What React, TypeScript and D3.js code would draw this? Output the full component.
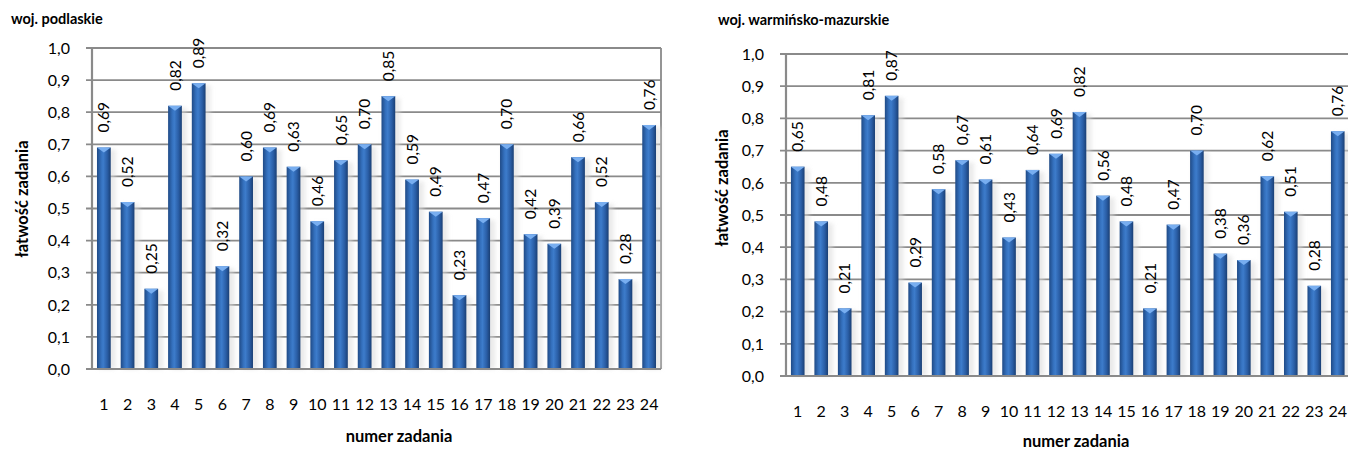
import React from "react";
import * as d3 from "d3";

const categories: string[] = Array.from({ length: 24 }, (_, i) => String(i + 1));
const podlaskieValues: number[] = [0.69, 0.52, 0.25, 0.82, 0.89, 0.32, 0.60, 0.69, 0.63, 0.46, 0.65, 0.70, 0.85, 0.59, 0.49, 0.23, 0.47, 0.70, 0.42, 0.39, 0.66, 0.52, 0.28, 0.76];
const warminskoValues: number[] = [0.65, 0.48, 0.21, 0.81, 0.87, 0.29, 0.58, 0.67, 0.61, 0.43, 0.64, 0.69, 0.82, 0.56, 0.48, 0.21, 0.47, 0.70, 0.38, 0.36, 0.62, 0.51, 0.28, 0.76];
const yTicks: number[] = [0, 0.1, 0.2, 0.3, 0.4, 0.5, 0.6, 0.7, 0.8, 0.9, 1.0];
const titles: string[] = ["woj. podlaskie", "woj. warmińsko-mazurskie"];
const yAxisTitle = "łatwość zadania";
const xAxisTitle = "numer zadania";

const FONT = "Lato, 'Open Sans', sans-serif";
const fmt = (v: number) => v.toFixed(2).replace(".", ",");
const fmtTick = (v: number) => v.toFixed(1).replace(".", ",");

interface Layout {
  left: number; right: number; top: number; bottom: number;
  titleX: number; titleY: number;
  yTitleX: number; yTitleY: number;
  xTickY: number; xTitleX: number; xTitleY: number;
  tickLabelX: number;
}

const layouts: Layout[] = [
  { left: 92, right: 661, top: 48, bottom: 369, titleX: 11, titleY: 24, yTitleX: 22, yTitleY: 199, xTickY: 410, xTitleX: 399, xTitleY: 442, tickLabelX: 70 },
  { left: 786, right: 1349.5, top: 54, bottom: 376, titleX: 718, titleY: 25, yTitleX: 722, yTitleY: 188, xTickY: 417, xTitleX: 1076, xTitleY: 447, tickLabelX: 764 },
];

function Chart({ values, title, L, id }: { values: number[]; title: string; L: Layout; id: string }) {
  const x = d3.scaleBand<string>().domain(categories).range([L.left, L.right]).paddingInner(0.42).paddingOuter(0.21);
  const y = d3.scaleLinear().domain([0, 1]).range([L.bottom, L.top]);
  const bw = x.bandwidth();
  const grid = "#8a8a8a";
  return (
    <g>
      <text x={L.titleX} y={L.titleY} fontFamily={FONT} fontWeight={700} fontSize={14.5} fill="#000">{title}</text>
      {yTicks.map((t) => (
        <g key={t}>
          <line x1={L.left - 6} x2={L.right} y1={y(t)} y2={y(t)} stroke={grid} strokeWidth={1.8} />
          <text x={L.tickLabelX} y={y(t)} dy="0.36em" textAnchor="end" fontFamily={FONT} fontSize={16} fill="#000">{fmtTick(t)}</text>
        </g>
      ))}
      <line x1={L.left} x2={L.left} y1={L.top} y2={L.bottom} stroke={grid} strokeWidth={2.2} />
      <line x1={L.right} x2={L.right} y1={L.top} y2={L.bottom} stroke={grid} strokeWidth={1.8} />
      {values.map((v, i) => {
        const c = categories[i];
        const bx = x(c)!;
        const by = y(v);
        const bh = y(0) - by;
        return (
          <g key={c}>
            <rect x={bx + 2} y={by + 2} width={bw + 3} height={bh - 2} fill="#d9d9d9" opacity={0.55} filter={`url(#blur-${id})`} />
            <rect x={bx} y={by} width={bw} height={bh} fill={`url(#bar-${id})`} />
            <polygon points={`${bx},${by} ${bx + bw},${by} ${bx + bw / 2},${by + 5}`} fill="#78aef0" />
            <text transform={`translate(${bx + bw / 2},${by - 15}) rotate(-90)`} dy="0.36em" textAnchor="start" fontFamily={FONT} fontSize={15.5} fill="#000">{fmt(v)}</text>
          </g>
        );
      })}
      <line x1={L.left - 6} x2={L.right} y1={y(0)} y2={y(0)} stroke={grid} strokeWidth={2} />
      {categories.map((c) => (
        <text key={c} x={x(c)! + bw / 2} y={L.xTickY} textAnchor="middle" fontFamily={FONT} fontSize={16} fill="#000">{c}</text>
      ))}
      <text transform={`translate(${L.yTitleX},${L.yTitleY}) rotate(-90)`} dy="0.36em" textAnchor="middle" fontFamily={FONT} fontWeight={700} fontSize={16.5} fill="#000">{yAxisTitle}</text>
      <text x={L.xTitleX} y={L.xTitleY} textAnchor="middle" fontFamily={FONT} fontWeight={700} fontSize={16.5} fill="#000">{xAxisTitle}</text>
    </g>
  );
}

export default function App() {
  const ids = ["a", "b"];
  return (
    <svg width={1348} height={453} style={{ position: "absolute", left: 0, top: 0, background: "#fff" }}>
      <defs>
        {ids.map((id) => (
          <React.Fragment key={id}>
            <linearGradient id={`bar-${id}`} x1="0" x2="1" y1="0" y2="0">
              <stop offset="0%" stopColor="#1f4a86" />
              <stop offset="30%" stopColor="#3470bd" />
              <stop offset="45%" stopColor="#3d7ccb" />
              <stop offset="75%" stopColor="#2a5ea6" />
              <stop offset="100%" stopColor="#1a3f74" />
            </linearGradient>
            <filter id={`blur-${id}`} x="-50%" y="-10%" width="200%" height="120%">
              <feGaussianBlur stdDeviation="2" />
            </filter>
          </React.Fragment>
        ))}
      </defs>
      {[podlaskieValues, warminskoValues].map((vals, i) => (
        <Chart key={i} values={vals} title={titles[i]} L={layouts[i]} id={ids[i]} />
      ))}
    </svg>
  );
}
